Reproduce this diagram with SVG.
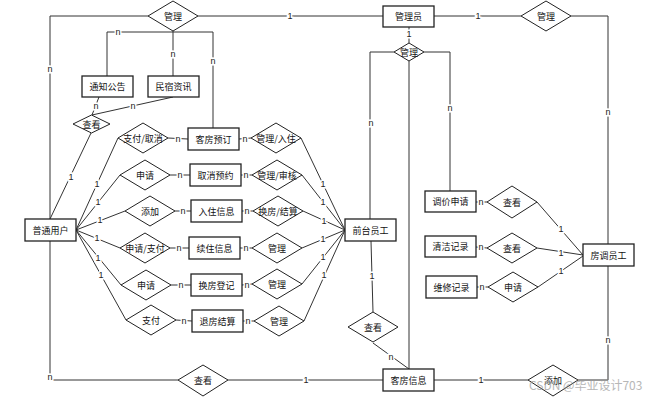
<svg xmlns="http://www.w3.org/2000/svg" width="657" height="400" viewBox="0 0 657 400">
<style>
.e{fill:#fff;stroke:#222;stroke-width:1.3}
.r{fill:#fff;stroke:#222;stroke-width:1}
.t{font-family:"Noto Sans CJK SC","Noto Sans",sans-serif;font-size:9px;fill:#111;text-anchor:middle;dominant-baseline:central}
.c{fill:none;stroke:#333;stroke-width:1}
.l{font-family:"Liberation Sans",Arial,sans-serif;font-size:9px;fill:#222;text-anchor:middle;dominant-baseline:central;stroke:#fff;stroke-width:3;paint-order:stroke}
.w{font-family:"Noto Sans CJK SC","Noto Sans",sans-serif;font-size:12px;fill:#999;opacity:0.7}
</style>
<rect width="657" height="400" fill="#fff"/>
<g id="connectors">
<path class="c" d="M148,16 H50 V380 H178"/>
<path class="c" d="M198,16 H383"/>
<path class="c" d="M434,16 H521"/>
<path class="c" d="M571,16 H608 V244"/>
<path class="c" d="M608,266 V380 H578"/>
<path class="c" d="M434,380 H528"/>
<path class="c" d="M383,380 H228"/>
<path class="c" d="M409,27 V43"/>
<path class="c" d="M394,52 H370 V219"/>
<path class="c" d="M409,61 V369"/>
<path class="c" d="M424,52 H450 V191"/>
<path class="c" d="M173,31 V76"/>
<path class="c" d="M107,76 V32 H213 V128"/>
<path class="c" d="M99,97 L92,115"/>
<path class="c" d="M173,97 L92,115"/>
<path class="c" d="M91,133 L50,219"/>
<path class="c" d="M76,230 L118,138 M76,230 L120,175 M76,230 L125,211 M76,230 L120,248 M76,230 L121,285 M76,230 L126,320"/>
<path class="c" d="M168,138 L188,139 M170,175 L190,175 M175,211 L191,211 M170,248 L189,248 M171,285 L191,285 M176,320 L192,321"/>
<path class="c" d="M239,139 L251,138 M241,175 L252,175 M242,211 L253,211 M240,248 L252,248 M242,285 L252,284 M243,321 L254,321"/>
<path class="c" d="M301,138 L345,230 M302,175 L345,230 M303,211 L345,230 M302,248 L345,230 M302,284 L345,230 M304,321 L345,230"/>
<path class="c" d="M371,241 L373,312"/>
<path class="c" d="M373,343 L409,369"/>
<path class="c" d="M476,202 L487,202 M537,202 L583,255"/>
<path class="c" d="M476,247 L487,248 M537,248 L583,255"/>
<path class="c" d="M477,287 L488,287 M538,287 L583,256"/>
<g id="labels">
<text class="l" x="50" y="69">n</text>
<text class="l" x="50" y="377">n</text>
<text class="l" x="290" y="16">1</text>
<text class="l" x="478" y="16">1</text>
<text class="l" x="608" y="112">n</text>
<text class="l" x="608" y="340">n</text>
<text class="l" x="481" y="380">1</text>
<text class="l" x="306" y="380">1</text>
<text class="l" x="409" y="34">1</text>
<text class="l" x="371" y="123">n</text>
<text class="l" x="450" y="108">n</text>
<text class="l" x="118" y="32">n</text>
<text class="l" x="173" y="54">n</text>
<text class="l" x="213" y="61">n</text>
<text class="l" x="96" y="106">n</text>
<text class="l" x="133" y="106">n</text>
<text class="l" x="71" y="177">1</text>
<text class="l" x="97" y="184">1</text>
<text class="l" x="98" y="202">1</text>
<text class="l" x="100" y="220">1</text>
<text class="l" x="97" y="238">1</text>
<text class="l" x="98" y="258">1</text>
<text class="l" x="101" y="275">1</text>
<text class="l" x="178" y="139">n</text>
<text class="l" x="180" y="175">n</text>
<text class="l" x="183" y="211">n</text>
<text class="l" x="179" y="248">n</text>
<text class="l" x="181" y="285">n</text>
<text class="l" x="184" y="321">n</text>
<text class="l" x="245" y="139">n</text>
<text class="l" x="246" y="175">n</text>
<text class="l" x="247" y="211">n</text>
<text class="l" x="246" y="248">n</text>
<text class="l" x="247" y="285">n</text>
<text class="l" x="248" y="321">n</text>
<text class="l" x="323" y="184">1</text>
<text class="l" x="323" y="202">1</text>
<text class="l" x="324" y="221">1</text>
<text class="l" x="323" y="239">1</text>
<text class="l" x="323" y="257">1</text>
<text class="l" x="324" y="275">1</text>
<text class="l" x="372" y="276">1</text>
<text class="l" x="391" y="357">n</text>
<text class="l" x="481" y="202">n</text>
<text class="l" x="561" y="229">1</text>
<text class="l" x="481" y="247">n</text>
<text class="l" x="561" y="253">1</text>
<text class="l" x="482" y="287">n</text>
<text class="l" x="561" y="271">1</text>
</g>
</g>
<g id="admin"><rect class="e" x="383" y="6" width="51" height="21"/><text class="t" x="408.5" y="16.5">管理员</text></g>
<g id="notice"><rect class="e" x="82" y="76" width="51" height="21"/><text class="t" x="107.5" y="86.5">通知公告</text></g>
<g id="news"><rect class="e" x="148" y="76" width="51" height="21"/><text class="t" x="173.5" y="86.5">民宿资讯</text></g>
<g id="user"><rect class="e" x="25" y="219" width="51" height="22"/><text class="t" x="50.5" y="230">普通用户</text></g>
<g id="booking"><rect class="e" x="188" y="128" width="51" height="22"/><text class="t" x="213.5" y="139">客房预订</text></g>
<g id="cancel"><rect class="e" x="190" y="164" width="51" height="22"/><text class="t" x="215.5" y="175">取消预约</text></g>
<g id="checkin"><rect class="e" x="191" y="200" width="51" height="22"/><text class="t" x="216.5" y="211">入住信息</text></g>
<g id="renew"><rect class="e" x="189" y="237" width="51" height="22"/><text class="t" x="214.5" y="248">续住信息</text></g>
<g id="change"><rect class="e" x="191" y="274" width="51" height="22"/><text class="t" x="216.5" y="285">换房登记</text></g>
<g id="checkout"><rect class="e" x="192" y="310" width="51" height="22"/><text class="t" x="217.5" y="321">退房结算</text></g>
<g id="front"><rect class="e" x="345" y="219" width="51" height="22"/><text class="t" x="370.5" y="230">前台员工</text></g>
<g id="room"><rect class="e" x="383" y="369" width="51" height="22"/><text class="t" x="408.5" y="380">客房信息</text></g>
<g id="price"><rect class="e" x="425" y="191" width="51" height="21"/><text class="t" x="450.5" y="201.5">调价申请</text></g>
<g id="clean"><rect class="e" x="425" y="236" width="51" height="21"/><text class="t" x="450.5" y="246.5">清洁记录</text></g>
<g id="repair"><rect class="e" x="426" y="276" width="51" height="22"/><text class="t" x="451.5" y="287">维修记录</text></g>
<g id="house"><rect class="e" x="583" y="244" width="51" height="22"/><text class="t" x="608.5" y="255">房调员工</text></g>
<g id="d_top"><polygon class="r" points="148,16 173,1 198,16 173,31"/><text class="t" x="173" y="16">管理</text></g>
<g id="d_admin_right"><polygon class="r" points="521,16 546,1 571,16 546,31"/><text class="t" x="546" y="16">管理</text></g>
<g id="d_admin_small"><polygon class="r" points="394,52 409,43 424,52 409,61"/><text class="t" x="409" y="52">管理</text></g>
<g id="d_view1"><polygon class="r" points="73,124 91.5,115 110,124 91.5,133"/><text class="t" x="91.5" y="124">查看</text></g>
<g id="r1L"><polygon class="r" points="118,138 143,123 168,138 143,153"/><text class="t" x="143" y="138">支付/取消</text></g>
<g id="r1R"><polygon class="r" points="251,138 276,123 301,138 276,153"/><text class="t" x="276" y="138">管理/入住</text></g>
<g id="r2L"><polygon class="r" points="120,175 145,160 170,175 145,190"/><text class="t" x="145" y="175">申请</text></g>
<g id="r2R"><polygon class="r" points="252,175 277,160 302,175 277,190"/><text class="t" x="277" y="175">管理/审核</text></g>
<g id="r3L"><polygon class="r" points="125,211 150,196 175,211 150,226"/><text class="t" x="150" y="211">添加</text></g>
<g id="r3R"><polygon class="r" points="253,211 278,196 303,211 278,226"/><text class="t" x="278" y="211">换房/结算</text></g>
<g id="r4L"><polygon class="r" points="120,248 145,233 170,248 145,263"/><text class="t" x="145" y="248">申请/支付</text></g>
<g id="r4R"><polygon class="r" points="252,248 277,233 302,248 277,263"/><text class="t" x="277" y="248">管理</text></g>
<g id="r5L"><polygon class="r" points="121,285 146,270 171,285 146,300"/><text class="t" x="146" y="285">申请</text></g>
<g id="r5R"><polygon class="r" points="252,284 277,269 302,284 277,299"/><text class="t" x="277" y="284">管理</text></g>
<g id="r6L"><polygon class="r" points="126,320 151,305 176,320 151,335"/><text class="t" x="151" y="320">支付</text></g>
<g id="r6R"><polygon class="r" points="254,321 279,306 304,321 279,336"/><text class="t" x="279" y="321">管理</text></g>
<g id="d_view_front"><polygon class="r" points="348,327 373,312 398,327 373,342"/><text class="t" x="373" y="327">查看</text></g>
<g id="d_view_bottom"><polygon class="r" points="178,380 203,365 228,380 203,396"/><text class="t" x="203" y="380">查看</text></g>
<g id="d_add"><polygon class="r" points="528,380 553,365 578,380 553,396"/><text class="t" x="553" y="380">添加</text></g>
<g id="d_price"><polygon class="r" points="487,202 512,186 537,202 512,218"/><text class="t" x="512" y="202">查看</text></g>
<g id="d_clean"><polygon class="r" points="487,248 512,233 537,248 512,263"/><text class="t" x="512" y="248">查看</text></g>
<g id="d_repair"><polygon class="r" points="488,287 513,272 538,287 513,302"/><text class="t" x="513" y="287">申请</text></g>
<text class="w" x="529" y="390">CSDN @毕业设计703</text>
</svg>
